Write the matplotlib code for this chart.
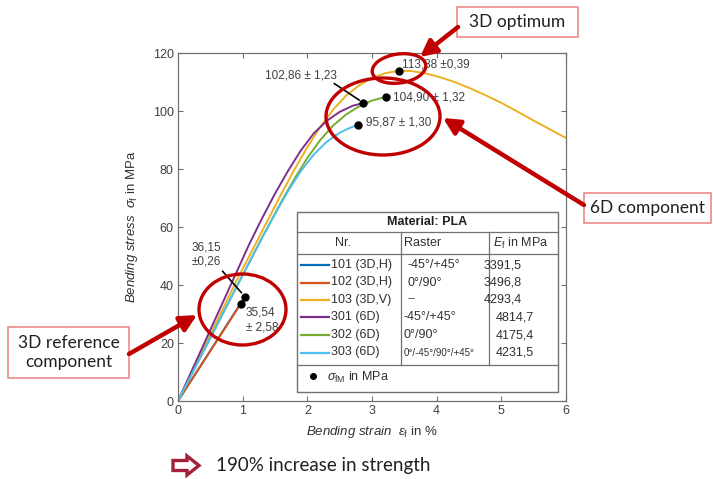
import numpy as np
import matplotlib
matplotlib.use('Agg')
import matplotlib.pyplot as plt
from matplotlib.patches import Ellipse, Rectangle, Polygon, FancyArrowPatch

plt.rcParams['font.family'] = ['Liberation Sans', 'DejaVu Sans']
plt.rcParams['mathtext.fontset'] = 'custom'
plt.rcParams['mathtext.rm'] = 'Liberation Sans'
plt.rcParams['mathtext.it'] = 'Liberation Sans:italic'
plt.rcParams['mathtext.bf'] = 'Liberation Sans:bold'

# ---- data (strain in %, stress in MPa) ----
names = ['101 (3D,H)', '102 (3D,H)', '103 (3D,V)', '301 (6D)', '302 (6D)', '303 (6D)']
rasters = ['-45°/+45°', '0°/90°', '--', '-45°/+45°', '0°/90°', '0°/-45°/90°/+45°']
moduli = ['3391,5', '3496,8', '4293,4', '4814,7', '4175,4', '4231,5']
colors = ['#0072BD', '#D95319', '#EDB120', '#7E2F8E', '#77AC30', '#4DBEEE']

strain_101 = [0, 1.03]
stress_101 = [0, 35.8]
strain_102 = [0, 0.97]
stress_102 = [0, 33.5]
strain_103 = [0, 0.91, 1.3, 1.6, 1.8, 2.0, 2.2, 2.4, 2.6, 2.8, 3.0, 3.2, 3.42, 3.6, 3.8,
              4.0, 4.25, 4.5, 4.75, 5.0, 5.25, 5.5, 5.75, 6.0]
stress_103 = [0, 41.7, 58.5, 71.5, 79.8, 87.5, 94.5, 100.5, 105.3, 108.8, 111.3, 113.0, 113.9, 113.8, 113.1,
              112.0, 110.2, 108.0, 105.5, 102.8, 99.8, 96.7, 93.7, 90.7]
strain_301 = [0, 0.85, 1.1, 1.3, 1.5, 1.7, 1.9, 2.1, 2.3, 2.5, 2.7, 2.86, 2.93]
stress_301 = [0, 41.7, 54.0, 63.0, 71.5, 79.3, 86.4, 92.3, 96.6, 99.7, 101.8, 102.7, 102.9]
strain_302 = [0, 0.96, 1.3, 1.6, 1.8, 2.0, 2.2, 2.4, 2.6, 2.8, 3.0, 3.22, 3.27]
stress_302 = [0, 41.7, 56.3, 68.8, 76.6, 83.8, 90.0, 95.0, 98.8, 101.6, 103.6, 104.9, 105.1]
strain_303 = [0, 0.96, 1.27, 1.5, 1.7, 1.9, 2.1, 2.3, 2.5, 2.65, 2.78]
stress_303 = [0, 41.7, 55.0, 64.5, 72.3, 79.3, 85.0, 89.4, 92.5, 94.1, 95.2]

peak_strain = [1.03, 0.97, 3.42, 2.86, 3.22, 2.78]
peak_stress = [35.8, 33.5, 113.9, 102.7, 104.9, 95.2]

curves = [(strain_101, stress_101), (strain_102, stress_102), (strain_103, stress_103),
          (strain_301, stress_301), (strain_302, stress_302), (strain_303, stress_303)]

W, H = 713, 479
fig = plt.figure(figsize=(W / 100, H / 100), dpi=100)
ax = fig.add_axes([178 / W, 1 - 401 / H, 388 / W, 348 / H])

for (sx, sy), c in zip(curves, colors):
    ax.plot(sx, sy, color=c, lw=1.4, zorder=2, solid_joinstyle='round')
ax.plot(peak_strain, peak_stress, 'o', color='black', ms=5, zorder=4)

ax.set_xlim(0, 6)
ax.set_ylim(0, 120)
ax.set_xticks(range(0, 7))
ax.set_yticks(range(0, 121, 20))
ax.tick_params(direction='in', length=3.5, width=0.8, colors='#707070', labelcolor='#404040',
               labelsize=9, top=True, right=True, pad=3)
for sp in ax.spines.values():
    sp.set_color('#707070')
    sp.set_linewidth(0.9)
ax.set_xlabel(r'$\mathit{Bending\ strain}\ \ \varepsilon_{\mathrm{f}}$ in %', fontsize=9.5,
              color='#303030', labelpad=5)
ax.set_ylabel(r'$\mathit{Bending\ stress}\ \ \sigma_{\mathrm{f}}$ in MPa', fontsize=9.5,
              color='#303030', labelpad=9)

# value annotations
tcol = '#404040'
ax.text(0.44, 50.5, '36,15\n±0,26', fontsize=8.5, color=tcol, ha='center', va='center', linespacing=1.3)
ax.annotate('', xy=(1.01, 36.6), xytext=(0.66, 45.5),
            arrowprops=dict(arrowstyle='-', color='black', lw=1.2))
ax.text(1.05, 28, '35,54\n± 2,58', fontsize=8.5, color=tcol, ha='left', va='center', linespacing=1.3)
ax.text(1.34, 112.4, '102,86 ± 1,23', fontsize=8.5, color=tcol, ha='left', va='center')
ax.annotate('', xy=(2.84, 103.2), xytext=(2.38, 110.0),
            arrowprops=dict(arrowstyle='-', color='black', lw=1.2))
ax.text(3.32, 104.8, '104,90 ± 1,32', fontsize=8.5, color=tcol, ha='left', va='center')
ax.text(2.9, 95.9, '95,87 ± 1,30', fontsize=8.5, color=tcol, ha='left', va='center')
ax.text(3.47, 115.9, '113,88 ±0,39', fontsize=8.5, color=tcol, ha='left', va='center')

# ---- overlay in pixel coordinates for table and callouts ----
ov = fig.add_axes([0, 0, 1, 1], zorder=5)
ov.set_xlim(0, W)
ov.set_ylim(H, 0)
ov.axis('off')
ov.patch.set_alpha(0)

# legend table
gc = '#707070'
ov.add_patch(Rectangle((297, 212), 261, 180, facecolor='white', edgecolor=gc, lw=1.0))
for yy in (232, 254, 365):
    ov.plot([297, 558], [yy, yy], color=gc, lw=0.9)
for xx in (401, 489):
    ov.plot([xx, xx], [232, 365], color=gc, lw=0.9)
ov.text(427.5, 222, 'Material: PLA', fontsize=9, fontweight='bold', ha='center', va='center', color='#202020')
ov.text(343, 243, 'Nr.', fontsize=9, ha='center', va='center', color='#303030')
ov.text(404, 243, 'Raster', fontsize=9, ha='left', va='center', color='#303030')
ov.text(493, 243, r'$E_{\mathrm{f}}$ in MPa', fontsize=9, ha='left', va='center', color='#303030')
row_y = [265, 282.5, 299.5, 317, 335, 352.5]
for i, (nm, rs, md, c) in enumerate(zip(names, rasters, moduli, colors)):
    yy = row_y[i]
    ov.plot([300.5, 329], [yy, yy], color=c, lw=1.6)
    ov.text(331, yy, nm, fontsize=9, ha='left', va='center', color='#303030')
    rx = 408 if i < 3 else 404
    ov.text(rx, yy, rs, fontsize=7 if i == 5 else 9, ha='left', va='center', color='#303030')
    ov.text(484 if i < 3 else 496, yy, md, fontsize=9, ha='left', va='center', color='#303030')
ov.plot([313], [376], 'o', color='black', ms=4)
ov.text(327, 377, r'$\sigma_{\mathrm{fM}}$ in MPa', fontsize=9, ha='left', va='center', color='#303030')

# red ellipses
red = '#C00000'
ov.add_patch(Ellipse((242.5, 309.5), 87, 71, fill=False, edgecolor=red, lw=2.4))
ov.add_patch(Ellipse((383, 116.5), 114, 77, fill=False, edgecolor=red, lw=2.4))
ov.add_patch(Ellipse((399, 68.5), 54, 29, angle=-8, fill=False, edgecolor=red, lw=2.4))

# callout boxes
cfont = ['Lato', 'DejaVu Sans']
box_ec = '#EE8A8A'
ov.add_patch(Rectangle((457, 7), 121, 30, facecolor='white', edgecolor=box_ec, lw=1.2))
ov.text(517.5, 22, '3D optimum', fontsize=12.5, family=cfont, ha='center', va='center', color='#202020')
ov.add_patch(Rectangle((584, 193), 127, 30, facecolor='white', edgecolor=box_ec, lw=1.2))
ov.text(647.5, 208, '6D component', fontsize=12.5, family=cfont, ha='center', va='center', color='#202020')
ov.add_patch(Rectangle((8, 327), 121, 51, facecolor='white', edgecolor=box_ec, lw=1.2))
ov.text(68.5, 352.5, '3D reference\ncomponent', fontsize=12.5, family=cfont, ha='center', va='center',
        color='#202020', linespacing=1.25)

for start, end in [((129, 354), (197, 315)), ((458, 27), (420, 57)), ((584, 205), (443, 118))]:
    ov.add_patch(FancyArrowPatch(start, end, arrowstyle='-|>,head_length=0.7,head_width=0.35',
                                 mutation_scale=14, color=red, lw=3.2, shrinkA=0, shrinkB=0))

# bottom note
ov.add_patch(Polygon([(173, 460.5), (187, 460.5), (187, 456), (199, 465.5), (187, 475), (187, 470.5),
                      (173, 470.5)],
                     closed=True, facecolor='white', edgecolor='#A3203A', lw=2.4, joinstyle='miter'))
ov.text(216, 466, '190% increase in strength', fontsize=13.5, family=cfont, ha='left', va='center',
        color='#202020')

fig.savefig('out.png', dpi=100)
